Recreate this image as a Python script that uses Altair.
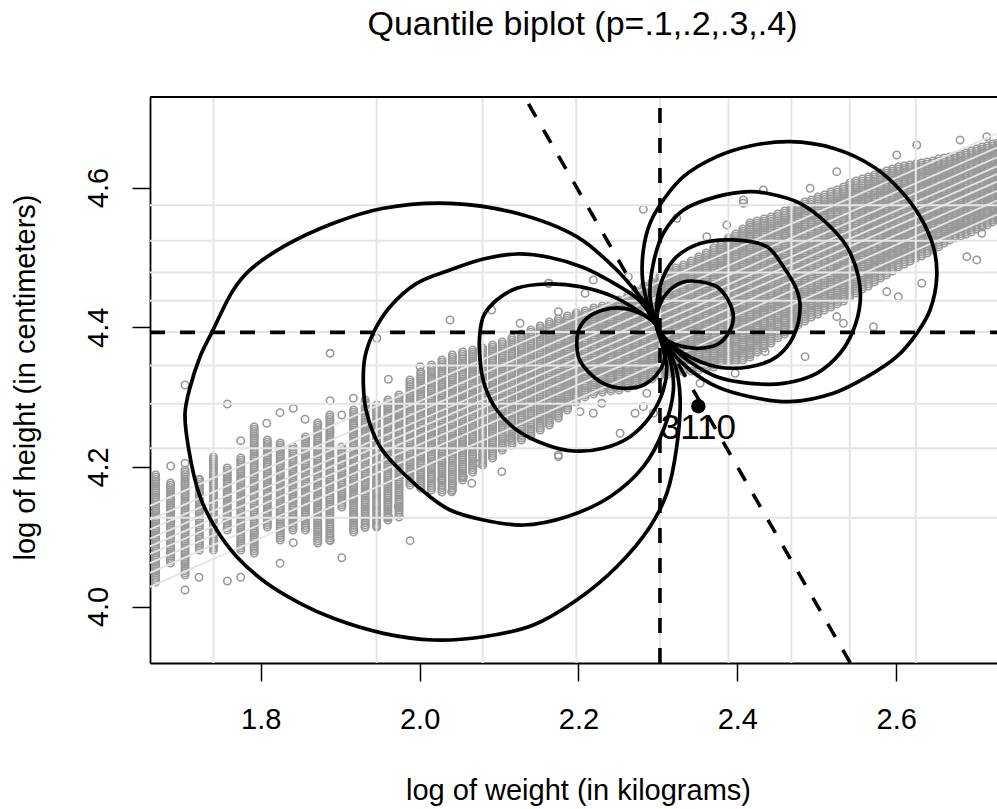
import numpy as np
import pandas as pd
import altair as alt

FONT = "Liberation Sans"
TITLE = "Quantile biplot (p=.1,.2,.3,.4)"
X_TITLE = "log of weight (in kilograms)"
Y_TITLE = "log of height (in centimeters)"
x_ticks = [1.8, 2.0, 2.2, 2.4, 2.6]
y_ticks = [4.0, 4.2, 4.4, 4.6]
x_domain = [1.6606, 2.7269]
y_domain = [3.9192, 4.7297]

# point cloud: weight columns (kg, 0.1 kg resolution) and the log-height span read for each column
col_weight_kg = [5.3, 5.4, 5.5, 5.6, 5.7, 5.8, 5.9, 6.0, 6.1, 6.2, 6.3, 6.4, 6.5, 6.6, 6.7, 6.8, 6.9, 7.0, 7.1, 7.2,
                 7.3, 7.4, 7.5, 7.6, 7.7, 7.8, 7.9, 8.0, 8.1, 8.2, 8.3, 8.4, 8.5, 8.6, 8.7, 8.8, 8.9, 9.0, 9.1, 9.2,
                 9.3, 9.4, 9.5, 9.6, 9.7, 9.8, 9.9, 10.0, 10.1, 10.2, 10.3, 10.4, 10.5, 10.6, 10.7, 10.8, 10.9, 11.0,
                 11.1, 11.2, 11.3, 11.4, 11.5, 11.6, 11.7, 11.8, 11.9, 12.0, 12.1, 12.2, 12.3, 12.4, 12.5, 12.6, 12.7,
                 12.8, 12.9, 13.0, 13.1, 13.2, 13.3, 13.4, 13.5, 13.6, 13.7, 13.8, 13.9, 14.0, 14.1, 14.2, 14.3, 14.4,
                 14.5, 14.6, 14.7, 14.8, 14.9, 15.0, 15.1, 15.2, 15.3]
col_logh_high = [4.1885, 4.1770, 4.1956, 4.1813, 4.2142, 4.1985, 4.2128, 4.2572, 4.2386, 4.2343, 4.2286, 4.2429,
                 4.2629, 4.2744, 4.2286, 4.2815, 4.2959, 4.2887, 4.2959, 4.3030,
                 4.3245, 4.3360, 4.3460, 4.3531, 4.3603, 4.3646, 4.3675, 4.3703, 4.3746, 4.3789, 4.3847, 4.3904,
                 4.3961, 4.4018, 4.4076, 4.4119, 4.4162, 4.4205, 4.4233, 4.4276, 4.4305, 4.4334, 4.4391, 4.4448,
                 4.4520, 4.4591, 4.4649, 4.4734, 4.4792, 4.4849, 4.4892, 4.4949,
                 4.5007, 4.5064, 4.5135, 4.5207, 4.5279, 4.5336, 4.5408, 4.5494, 4.5522, 4.5551, 4.5579, 4.5622,
                 4.5665, 4.5708, 4.5751, 4.5794, 4.5823, 4.5866, 4.5894, 4.5937, 4.5966, 4.6009, 4.6066, 4.6095,
                 4.6124, 4.6152, 4.6181, 4.6209, 4.6238, 4.6267, 4.6295, 4.6310, 4.6324, 4.6338, 4.6353, 4.6367,
                 4.6381, 4.6410, 4.6424, 4.6439, 4.6453, 4.6482, 4.6496, 4.6525, 4.6553, 4.6582, 4.6596, 4.6625,
                 4.6639]
col_logh_low = [4.0352, 4.0624, 4.0452, 4.0810, 4.0810, 4.1097, 4.0810, 4.0767, 4.1140, 4.0954, 4.1097, 4.1097,
                4.0911, 4.0954, 4.1426, 4.1068, 4.1140, 4.1140, 4.1240, 4.1283,
                4.1741, 4.1698, 4.1670, 4.1641, 4.1670, 4.1813, 4.1927, 4.2028, 4.2128, 4.2243, 4.2314, 4.2386,
                4.2443, 4.2529, 4.2601, 4.2701, 4.2815, 4.2930, 4.3002, 4.3045, 4.3073, 4.3088, 4.3102, 4.3131,
                4.3174, 4.3217, 4.3260, 4.3302, 4.3331, 4.3345, 4.3360, 4.3374,
                4.3388, 4.3402, 4.3431, 4.3460, 4.3489, 4.3503, 4.3531, 4.3574, 4.3646, 4.3703, 4.3775, 4.3847,
                4.3904, 4.3975, 4.4033, 4.4090, 4.4147, 4.4190, 4.4247, 4.4290, 4.4334, 4.4376, 4.4434, 4.4491,
                4.4548, 4.4591, 4.4649, 4.4706, 4.4749, 4.4806, 4.4863, 4.4906, 4.4949, 4.4992, 4.5021, 4.5064,
                4.5107, 4.5150, 4.5207, 4.5250, 4.5279, 4.5307, 4.5336, 4.5365, 4.5408, 4.5436, 4.5465, 4.5508,
                4.5537]
col_height_step = 0.0032  # spacing of stacked circles inside one column

outliers = [(1.7047, 4.3173), (1.8873, 4.3627), (1.9461, 4.3842), (1.9607, 4.3255), (2.0006, 4.3435),
            (2.0383, 4.4104), (1.7580, 4.2901), (1.6867, 4.2013), (1.7047, 4.2052), (1.7227, 4.1823),
            (1.7223, 4.0420), (1.7580, 4.0366), (1.7748, 4.0420), (1.7047, 4.0238), (1.7748, 4.2376),
            (1.8076, 4.2625), (1.8243, 4.2777), (1.8410, 4.2840), (1.8558, 4.2682), (1.8873, 4.2949),
            (1.9020, 4.2744), (1.9166, 4.2983), (1.8243, 4.0620), (1.9020, 4.0700), (1.8873, 4.0944),
            (1.8410, 4.0915), (1.9880, 4.0944), (1.9313, 4.1136), (1.9461, 4.1154), (1.9607, 4.1287),
            (1.9732, 4.1431), (2.0908, 4.4247), (2.1265, 4.4057), (2.1747, 4.4223), (2.1621, 4.4630),
            (2.2083, 4.4487), (2.2187, 4.4677), (2.2628, 4.4724), (2.1747, 4.2171), (2.2020, 4.2791),
            (2.2187, 4.2768), (2.2524, 4.2482), (2.2712, 4.2768), (2.2817, 4.2863), (2.2293, 4.2911),
            (2.1139, 4.2410), (2.0761, 4.2052), (2.0551, 4.1860), (2.0279, 4.1813), (2.1034, 4.1932),
            (2.1747, 4.2147), (2.0657, 4.1766), (2.0405, 4.1645), (2.2817, 4.5690), (2.1630, 4.4630),
            (2.3238, 4.5561), (2.3615, 4.5297), (2.4076, 4.5776), (2.3867, 4.5465), (2.5252, 4.6228),
            (2.4916, 4.5990), (2.4328, 4.5966), (2.4076, 4.5823), (2.6007, 4.6467), (2.6259, 4.6610),
            (2.6804, 4.6682), (2.7140, 4.6729), (2.6322, 4.4630), (2.7014, 4.4964), (2.6889, 4.5011),
            (2.7077, 4.5346), (2.5713, 4.4008), (2.5881, 4.4510), (2.6027, 4.4438), (2.4853, 4.3579),
            (2.4160, 4.3627), (2.3972, 4.3341), (2.4349, 4.3650), (2.5335, 4.4057), (2.5252, 4.4152),
            (2.3531, 4.3198), (2.2860, 4.3055), (2.2943, 4.2768)]

# decile grid lines
grid_x = [1.7405, 1.9459, 2.0794, 2.1972, 2.3026, 2.3888, 2.4681, 2.5416, 2.6247]
grid_y = [4.1271, 4.2268, 4.2905, 4.3451, 4.3933, 4.4379, 4.4785, 4.5240, 4.5747]
# deciles along the third direction: lines  y = 0.5 x + c
diag_slope = 0.5
diag_intercepts = [3.198, 3.218, 3.232, 3.245, 3.256, 3.267, 3.280, 3.294, 3.314]

median_x = 2.3026
median_y = 4.3927
axis3_ends = [(2.1321, 4.7297), (2.5422, 3.9192)]

loop_L1 = [(2.2989, 4.4047), (2.2901, 4.4247), (2.2775, 4.4438), (2.2482, 4.4820), (2.1978, 4.5297),
           (2.1223, 4.5632), (2.0383, 4.5775), (1.9544, 4.5704), (1.8914, 4.5489), (1.8285, 4.5154),
           (1.7865, 4.4820), (1.7655, 4.4534), (1.7383, 4.3922), (1.7236, 4.3578), (1.7101, 4.3101),
           (1.7047, 4.2768), (1.7088, 4.2289), (1.7236, 4.1573), (1.7446, 4.1096), (1.7698, 4.0714),
           (1.8076, 4.0333), (1.8495, 4.0047), (1.8914, 3.9832), (1.9544, 3.9617), (2.0173, 3.9521),
           (2.0803, 3.9568), (2.1432, 3.9736), (2.1978, 4.0094), (2.2482, 4.0571), (2.2901, 4.1144),
           (2.3112, 4.1622), (2.3237, 4.2289), (2.3279, 4.3005), (2.3216, 4.3459), (2.3078, 4.3789),
           (2.2995, 4.3990)]
loop_L2 = [(2.2989, 4.4018), (2.2876, 4.4233), (2.2734, 4.4419), (2.2398, 4.4662), (2.2062, 4.4856),
           (2.1642, 4.4999), (2.1223, 4.5049), (2.0803, 4.4977), (2.0383, 4.4820), (1.9964, 4.4629),
           (1.9628, 4.4294), (1.9418, 4.3922), (1.9313, 4.3578), (1.9292, 4.3173), (1.9335, 4.2768),
           (1.9502, 4.2289), (1.9795, 4.1909), (2.0131, 4.1573), (2.0383, 4.1383), (2.0803, 4.1240),
           (2.1306, 4.1168), (2.1853, 4.1287), (2.2398, 4.1573), (2.2817, 4.2003), (2.3069, 4.2529),
           (2.3195, 4.3101), (2.3153, 4.3531), (2.3052, 4.3817), (2.2989, 4.3989)]
loop_L3 = [(2.2989, 4.4018), (2.2943, 4.4080), (2.2734, 4.4247), (2.2439, 4.4438), (2.2020, 4.4581),
           (2.1601, 4.4619), (2.1223, 4.4558), (2.0971, 4.4390), (2.0811, 4.4176), (2.0761, 4.3936),
           (2.0761, 4.3531), (2.0824, 4.3149), (2.0971, 4.2815), (2.1223, 4.2529), (2.1601, 4.2314),
           (2.1936, 4.2228), (2.2313, 4.2267), (2.2650, 4.2433), (2.2901, 4.2719), (2.3069, 4.3101),
           (2.3112, 4.3435), (2.3069, 4.3674), (2.3002, 4.3932)]
loop_L4 = [(2.2989, 4.4018), (2.2943, 4.4080), (2.2817, 4.4176), (2.2565, 4.4271), (2.2313, 4.4247),
           (2.2104, 4.4128), (2.1995, 4.3936), (2.1999, 4.3578), (2.2104, 4.3388), (2.2313, 4.3197),
           (2.2565, 4.3126), (2.2817, 4.3173), (2.3027, 4.3388), (2.3090, 4.3603), (2.3069, 4.3770),
           (2.3002, 4.3932)]
loop_R1 = [(2.2989, 4.3989), (2.2876, 4.4319), (2.2807, 4.4677), (2.2817, 4.5106), (2.2901, 4.5489),
           (2.3069, 4.5822), (2.3321, 4.6156), (2.3741, 4.6443), (2.4160, 4.6596), (2.4664, 4.6657),
           (2.5209, 4.6563), (2.5713, 4.6299), (2.6049, 4.5966), (2.6301, 4.5583), (2.6468, 4.5154),
           (2.6511, 4.4724), (2.6426, 4.4247), (2.6259, 4.3913), (2.6007, 4.3578), (2.5630, 4.3288),
           (2.5209, 4.3054), (2.4664, 4.2934), (2.4160, 4.3005), (2.3741, 4.3149), (2.3405, 4.3388),
           (2.3153, 4.3674), (2.3027, 4.3903)]
loop_R2 = [(2.2989, 4.3989), (2.2901, 4.4438), (2.2943, 4.4916), (2.3069, 4.5346), (2.3321, 4.5679),
           (2.3741, 4.5870), (2.4160, 4.5941), (2.4371, 4.5918), (2.4790, 4.5775), (2.5126, 4.5489),
           (2.5378, 4.5154), (2.5524, 4.4724), (2.5545, 4.4343), (2.5461, 4.3961), (2.5293, 4.3627),
           (2.5000, 4.3341), (2.4580, 4.3197), (2.4160, 4.3197), (2.3741, 4.3292), (2.3405, 4.3502),
           (2.3128, 4.3775), (2.3027, 4.3918)]
loop_R3 = [(2.2989, 4.3989), (2.2986, 4.4343), (2.3069, 4.4724), (2.3237, 4.5010), (2.3531, 4.5199),
           (2.3950, 4.5250), (2.4371, 4.5154), (2.4580, 4.4867), (2.4748, 4.4534), (2.4790, 4.4294),
           (2.4705, 4.3865), (2.4496, 4.3578), (2.4160, 4.3435), (2.3741, 4.3435), (2.3321, 4.3627),
           (2.3112, 4.3817), (2.3027, 4.3932)]
loop_R4 = [(2.2989, 4.3960), (2.3002, 4.4247), (2.3112, 4.4491), (2.3321, 4.4648), (2.3531, 4.4652),
           (2.3741, 4.4581), (2.3883, 4.4390), (2.3950, 4.4151), (2.3896, 4.3932), (2.3758, 4.3760),
           (2.3531, 4.3699), (2.3321, 4.3722), (2.3128, 4.3803), (2.3027, 4.3903)]
loops = {"L1": loop_L1, "L2": loop_L2, "L3": loop_L3, "L4": loop_L4,
         "R1": loop_R1, "R2": loop_R2, "R3": loop_R3, "R4": loop_R4}

marked_point = (2.3509, 4.2869)
marked_label = "3110"

# ---------------- tables ----------------
rows = []
for w, lo, hi in zip(col_weight_kg, col_logh_low, col_logh_high):
    n = int(round((hi - lo) / col_height_step)) + 1
    for yv in np.linspace(lo, hi, n):
        rows.append((float(np.log(w)), float(yv)))
rows += outliers
cloud_df = pd.DataFrame(rows, columns=["x", "y"])

diag_df = pd.DataFrame({
    "x": [x_domain[0]] * len(diag_intercepts),
    "xe": [x_domain[1]] * len(diag_intercepts),
    "y": [diag_slope * x_domain[0] + c for c in diag_intercepts],
    "ye": [diag_slope * x_domain[1] + c for c in diag_intercepts],
})
loop_df = pd.DataFrame([(k, i, p[0], p[1]) for k, pts in loops.items() for i, p in enumerate(pts)],
                       columns=["loop", "i", "x", "y"])

xs = alt.Scale(domain=x_domain, nice=False, zero=False)
ys = alt.Scale(domain=y_domain, nice=False, zero=False)

x_axis = alt.Axis(values=x_ticks, format=".1f", title=X_TITLE, grid=False, tickSize=18, tickWidth=1.5,
                  tickColor="black", domainColor="black", domainWidth=1.8, labelFont=FONT, labelFontSize=29,
                  labelColor="black", labelPadding=47, labelBaseline="alphabetic", labelFlush=False,
                  titleFont=FONT, titleFontSize=29, titleFontWeight="normal", titleColor="black",
                  titleBaseline="alphabetic", titleX=428, titleY=136, titleAlign="center")
y_axis = alt.Axis(values=y_ticks, format=".1f", title=Y_TITLE, grid=False, tickSize=18, tickWidth=1.5,
                  tickColor="black", domainColor="black", domainWidth=1.8, labelFont=FONT, labelFontSize=29,
                  labelColor="black", labelAngle=270, labelAlign="center", labelBaseline="alphabetic",
                  labelPadding=25, labelFlush=False, titleFont=FONT, titleFontSize=29,
                  titleFontWeight="normal", titleColor="black", titleAngle=270, titleBaseline="alphabetic",
                  titleX=-116, titleY=280, titleAlign="center")


def X(field):
    return alt.X(field, type="quantitative", scale=xs, axis=x_axis)


def Y(field):
    return alt.Y(field, type="quantitative", scale=ys, axis=y_axis)


cloud = alt.Chart(cloud_df).mark_point(shape="circle", filled=False, size=55, strokeWidth=1.6,
                                       color="#999999", opacity=1, clip=True).encode(x=X("x"), y=Y("y"))

grid_v = alt.Chart(pd.DataFrame({"x": grid_x})).mark_rule(color="#e5e5e5", strokeWidth=2).encode(x=X("x"))
grid_h = alt.Chart(pd.DataFrame({"y": grid_y})).mark_rule(color="#e5e5e5", strokeWidth=2).encode(y=Y("y"))
diag = alt.Chart(diag_df).mark_rule(color="#e5e5e5", strokeWidth=1.8, clip=True).encode(
    x=X("x"), y=Y("y"), x2="xe:Q", y2="ye:Q")

top_frame = alt.Chart(pd.DataFrame({"y": [y_domain[1]]})).mark_rule(color="black", strokeWidth=1.8).encode(
    y=Y("y"))

dash_v = alt.Chart(pd.DataFrame({"x": [median_x], "y": [y_domain[0]], "ye": [y_domain[1]]})).mark_rule(
    color="black", strokeWidth=3.6, strokeDash=[15, 15]).encode(x=X("x"), y=Y("y"), y2="ye:Q")
dash_h = alt.Chart(pd.DataFrame({"x": [x_domain[0]], "xe": [x_domain[1]], "y": [median_y]})).mark_rule(
    color="black", strokeWidth=3.6, strokeDash=[15, 15]).encode(x=X("x"), x2="xe:Q", y=Y("y"))
dash_d = alt.Chart(pd.DataFrame({"x": [axis3_ends[0][0]], "y": [axis3_ends[0][1]],
                                 "xe": [axis3_ends[1][0]], "ye": [axis3_ends[1][1]]})).mark_rule(
    color="black", strokeWidth=3.6, strokeDash=[15, 15], strokeDashOffset=22).encode(
    x=X("x"), y=Y("y"), x2="xe:Q", y2="ye:Q")

loop_lines = alt.Chart(loop_df).mark_line(color="black", strokeWidth=3.7, interpolate="catmull-rom",
                                          strokeCap="round", strokeJoin="round").encode(
    x=X("x"), y=Y("y"), detail="loop:N", order=alt.Order("i:Q"))

pt_df = pd.DataFrame({"x": [marked_point[0]], "y": [marked_point[1]], "label": [marked_label]})
dot = alt.Chart(pt_df).mark_circle(color="black", size=210, opacity=1).encode(x=X("x"), y=Y("y"))
label = alt.Chart(pt_df).mark_text(font=FONT, fontSize=35, dy=33, baseline="alphabetic", align="center",
                                   color="black").encode(x=X("x"), y=Y("y"), text="label:N")

chart = alt.layer(cloud, grid_v, grid_h, diag, top_frame, dash_v, dash_h, dash_d, loop_lines, dot, label).properties(
    width=847, height=566,
    padding={"left": 150, "top": 97, "right": 0, "bottom": 146},
    autosize=alt.AutoSizeParams(type="none"),
    title=alt.TitleParams(TITLE, font=FONT, fontSize=34, fontWeight="normal", color="black",
                          anchor="middle", frame="group", baseline="alphabetic", offset=26, dx=9),
).configure(font=FONT).configure_view(stroke=None)

chart.save("out.html", embed_options={"renderer": "svg", "actions": False})
